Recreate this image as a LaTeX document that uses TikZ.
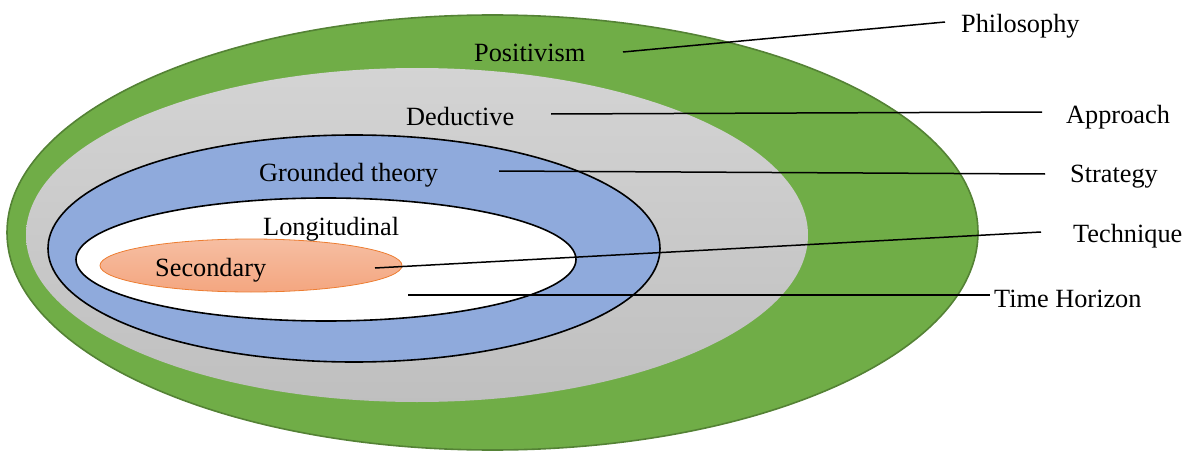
\documentclass[tikz,border=0pt]{standalone}
\usepackage{fontspec}
\setmainfont{Liberation Serif}
\usetikzlibrary{shapes.geometric}
\definecolor{grn}{HTML}{70AD47}
\definecolor{grnd}{HTML}{548235}
\definecolor{blu}{HTML}{8FAADC}
\definecolor{orgd}{HTML}{ED7D31}
\tikzset{
  ring/.style={ellipse, inner sep=0pt, line width=1.6pt},
  lbl/.style={font=\fontsize{26.3}{29}\selectfont, inner sep=0pt, anchor=base west},
  conn/.style={line width=1.5pt, black},
}
\begin{document}
\begin{tikzpicture}[x=1pt,y=-1pt]
\useasboundingbox (0,0) rectangle (1187,452);
\node[ring, draw=grnd, fill=grn, minimum width=971pt, minimum height=435pt] (philring) at (492.5,232.5) {};
\node[ring, draw=none, top color=black!17, bottom color=black!25, minimum width=782pt, minimum height=334pt] (appring) at (417,235) {};
\node[ring, draw=black, fill=blu, minimum width=612pt, minimum height=227pt] (strring) at (354,248.5) {};
\node[ring, draw=black, fill=white, minimum width=500pt, minimum height=123pt] (horring) at (326,259.5) {};
\node[ring, line width=0.8pt, draw=orgd, top color={rgb,255:red,246;green,190;blue,162}, bottom color={rgb,255:red,244;green,166;blue,128}, minimum width=302pt, minimum height=53pt] (tecring) at (251,265.5) {};
\node[lbl] (positivism) at (474,62) {Positivism};
\node[lbl] (deductive) at (406,125) {Deductive};
\node[lbl] (grounded) at (259,181) {Grounded theory};
\node[lbl] (longit) at (263,235) {Longitudinal};
\node[lbl] (secondary) at (155,276) {Secondary};
\node[lbl] (philosophy) at (961,33) {Philosophy};
\node[lbl] (approach) at (1066,123) {Approach};
\node[lbl] (strategy) at (1070,182) {Strategy};
\node[lbl] (technique) at (1073,242) {Technique};
\node[lbl] (timehor) at (994,307) {Time Horizon};
\coordinate (s1) at (623,52);
\coordinate (e1) at (945,22);
\coordinate (s2) at (551,114);
\coordinate (e2) at (1042,112);
\coordinate (s3) at (499,171);
\coordinate (e3) at (1045,174);
\coordinate (s4) at (375,268);
\coordinate (e4) at (1041,232);
\coordinate (s5) at (408,295);
\coordinate (e5) at (990,295);
\draw[conn] (s1) -- (e1);
\draw[conn] (s2) -- (e2);
\draw[conn] (s3) -- (e3);
\draw[conn] (s4) -- (e4);
\draw[conn] (s5) -- (e5);
\end{tikzpicture}
\end{document}
